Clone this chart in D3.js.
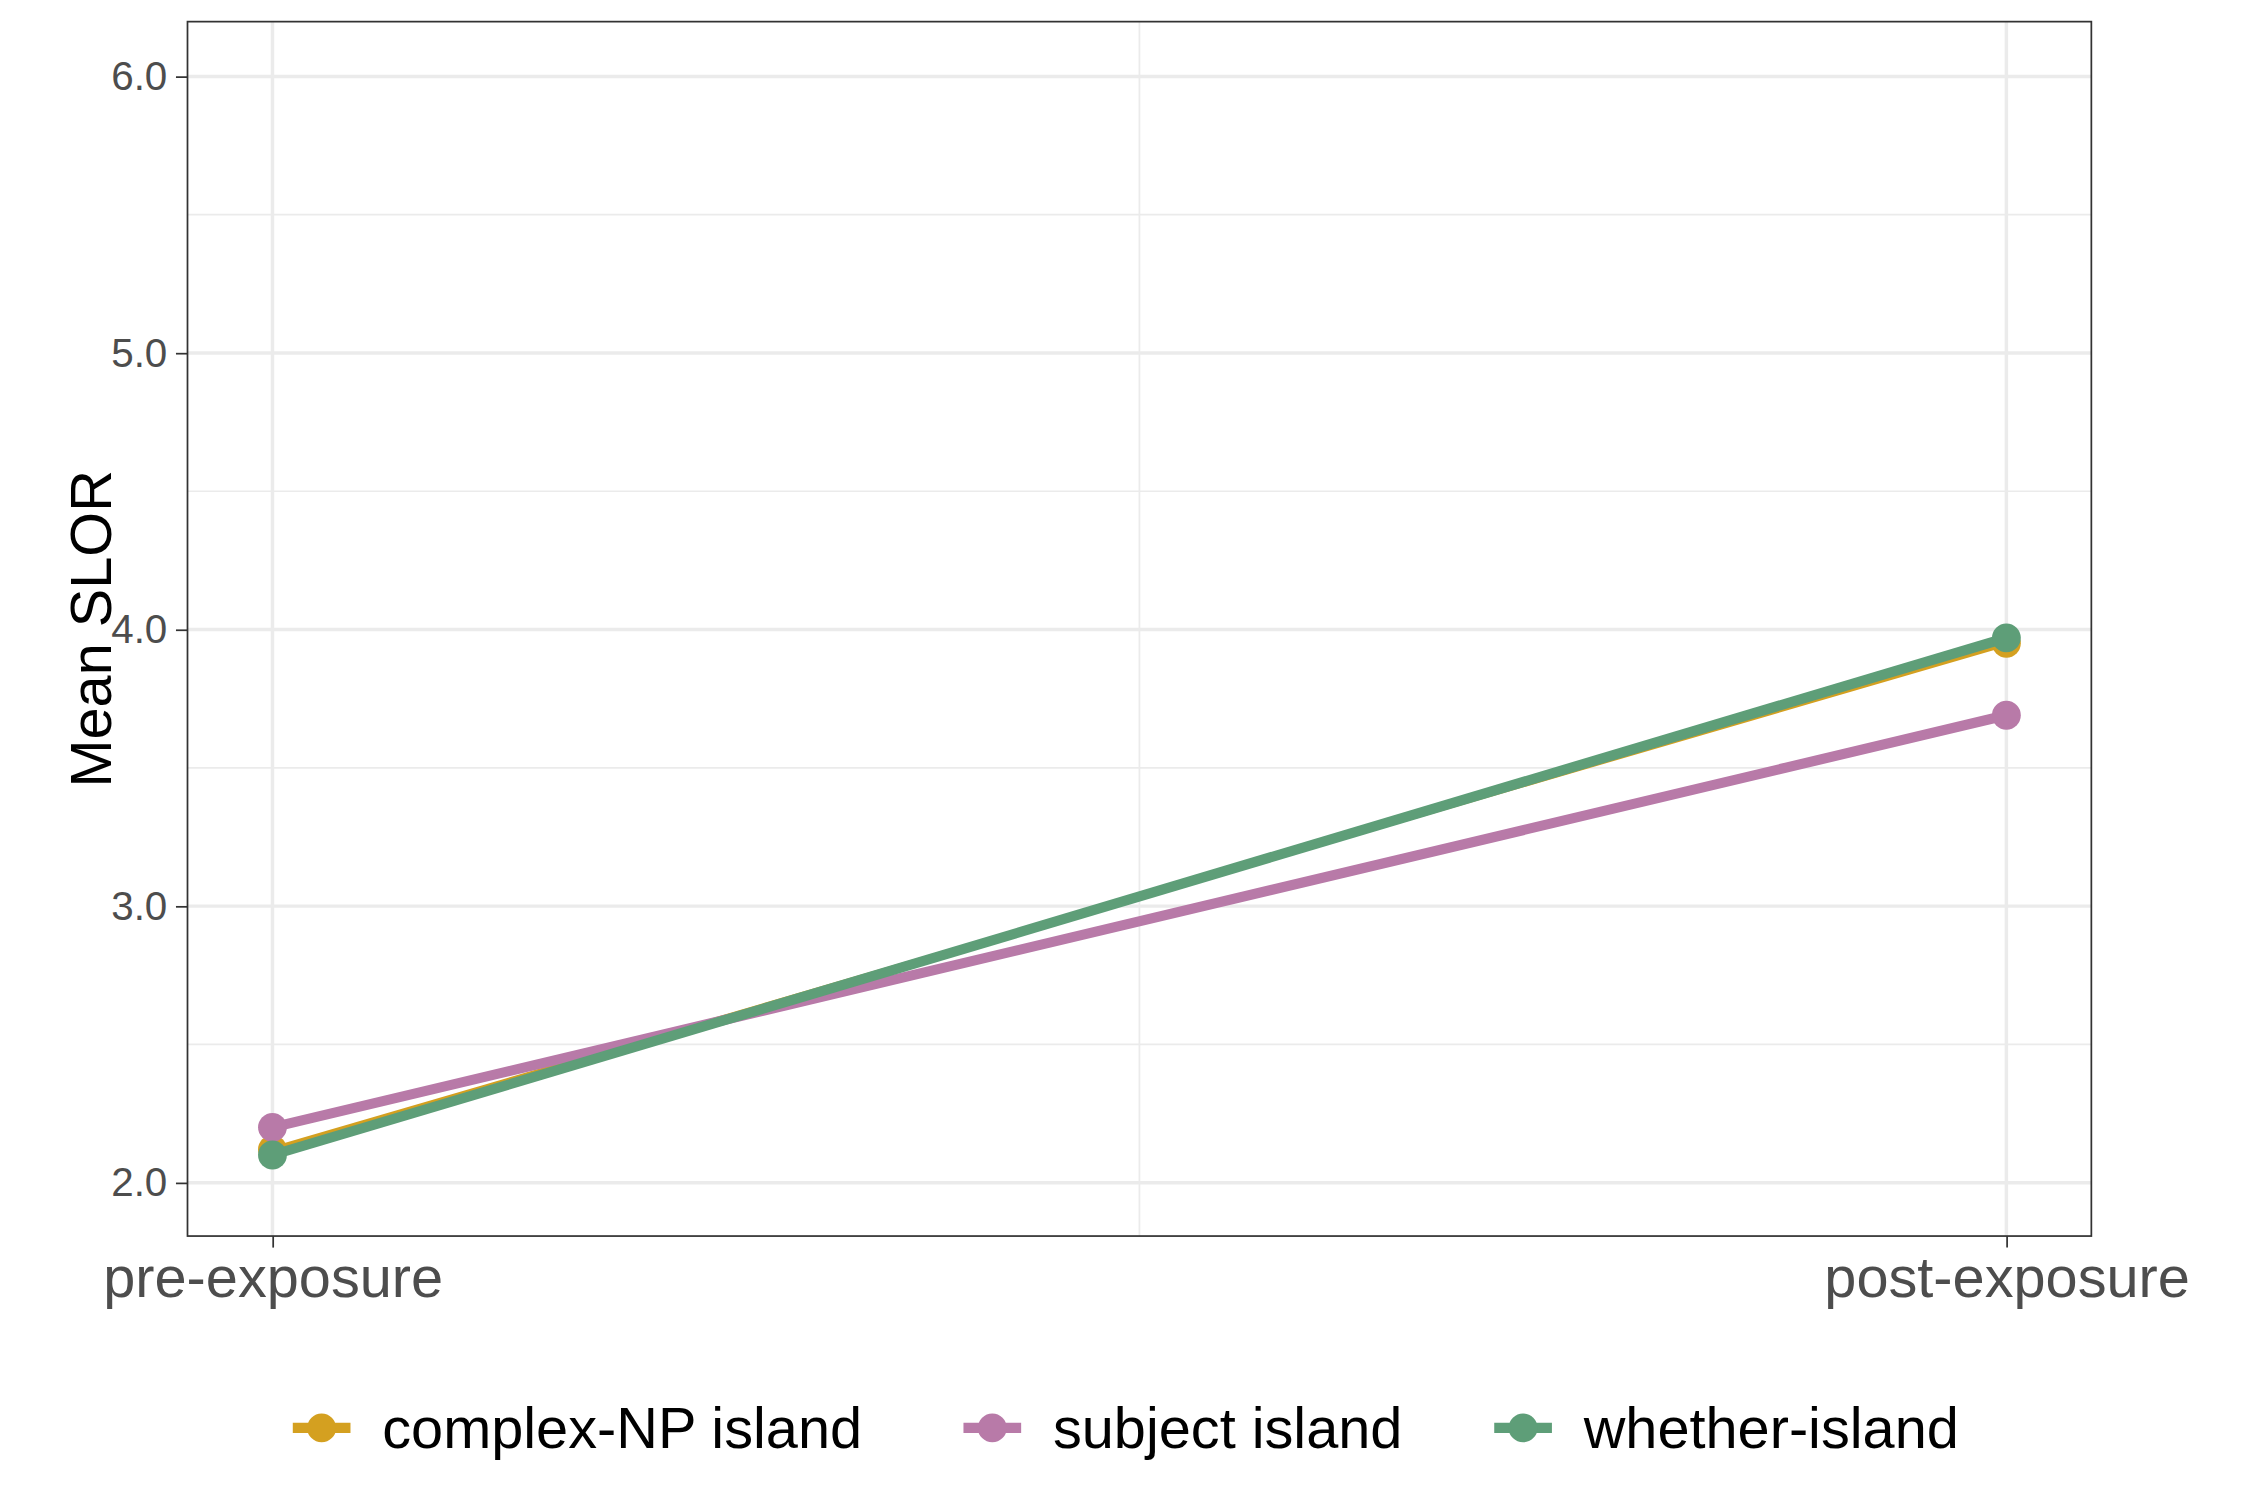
<!DOCTYPE html>
<html><head><meta charset="utf-8">
<script src="https://cdn.jsdelivr.net/npm/d3@7"></script>
<style>body{margin:0;background:#fff}text{font-family:"Liberation Sans",Arial,sans-serif}</style>
</head><body><div id="chart"></div>
<script>
var phases = ['pre-exposure', 'post-exposure'];
var seriesNames = ['complex-NP island', 'subject island', 'whether-island'];
var seriesColors = ['#D4A020', '#B87AA8', '#5E9E78'];
var complexNP = [2.12, 3.95];
var subjectIsl = [2.20, 3.69];
var whetherIsl = [2.10, 3.97];
var yTicks = [2, 3, 4, 5, 6];

var series = [complexNP, subjectIsl, whetherIsl];
var margin = {top: 15, right: 110, bottom: 183, left: 130},
    W = 1560, H = 1040,
    width = W - margin.left - margin.right,
    height = H - margin.top - margin.bottom;

var svg = d3.select('#chart').append('svg')
    .attr('width', 2250).attr('height', 1500)
    .attr('viewBox', '0 0 ' + W + ' ' + H);
var g = svg.append('g').attr('transform', 'translate(' + margin.left + ',' + margin.top + ')');

var x = d3.scaleLinear().domain([-0.049, 1.049]).range([0, width]);
var y = d3.scaleLinear().domain([1.807, 6.198]).range([height, 0]);

// grid
[2.5, 3.5, 4.5, 5.5].forEach(function (v) {
  g.append('line').attr('x1', 0).attr('x2', width).attr('y1', y(v)).attr('y2', y(v))
    .attr('stroke', '#ebebeb').attr('stroke-width', 1.2);
});
g.append('line').attr('x1', x(0.5)).attr('x2', x(0.5)).attr('y1', 0).attr('y2', height)
  .attr('stroke', '#ebebeb').attr('stroke-width', 1.2);
yTicks.forEach(function (v) {
  g.append('line').attr('x1', 0).attr('x2', width).attr('y1', y(v)).attr('y2', y(v))
    .attr('stroke', '#ebebeb').attr('stroke-width', 2.4);
});
[0, 1].forEach(function (i) {
  g.append('line').attr('x1', x(i)).attr('x2', x(i)).attr('y1', 0).attr('y2', height)
    .attr('stroke', '#ebebeb').attr('stroke-width', 2.4);
});

// axes
var ya = g.append('g').call(d3.axisLeft(y).tickValues(yTicks).tickSize(8).tickPadding(6));
ya.select('.domain').remove();
ya.selectAll('line').attr('stroke', '#333').attr('stroke-width', 1.2);
ya.selectAll('text').attr('font-size', 28).attr('fill', '#4d4d4d');

var xa = g.append('g').attr('transform', 'translate(0,' + height + ')')
  .call(d3.axisBottom(x).tickValues([0, 1]).tickFormat(function (d) { return phases[d]; }).tickSize(8).tickPadding(6));
xa.select('.domain').remove();
xa.selectAll('line').attr('stroke', '#333').attr('stroke-width', 1.2);
xa.selectAll('text').attr('font-size', 40).attr('fill', '#4d4d4d');

// lines & points
var line = d3.line().x(function (d, i) { return x(i); }).y(function (d) { return y(d); });
series.forEach(function (s, k) {
  g.append('path').attr('d', line(s)).attr('fill', 'none')
    .attr('stroke', seriesColors[k]).attr('stroke-width', k === 0 ? 4 : 7);
  s.forEach(function (v, i) {
    g.append('circle').attr('cx', x(i)).attr('cy', y(v)).attr('r', 10).attr('fill', seriesColors[k]);
  });
});

g.append('rect').attr('width', width).attr('height', height)
  .attr('fill', 'none').attr('stroke', '#333').attr('stroke-width', 1.2);

svg.append('text').attr('transform', 'translate(77,' + (margin.top + height / 2) + ') rotate(-90)')
  .attr('text-anchor', 'middle').attr('font-size', 40).text('Mean SLOR');

// legend
var lx = [203, 668, 1036];
seriesNames.forEach(function (n, k) {
  var lg = svg.append('g').attr('transform', 'translate(' + lx[k] + ',990)');
  lg.append('line').attr('x1', 0).attr('x2', 40).attr('stroke', seriesColors[k]).attr('stroke-width', 7);
  lg.append('circle').attr('cx', 20).attr('r', 10).attr('fill', seriesColors[k]);
  lg.append('text').attr('x', 62).attr('y', 14).attr('font-size', 40).text(n);
});
</script></body></html>
